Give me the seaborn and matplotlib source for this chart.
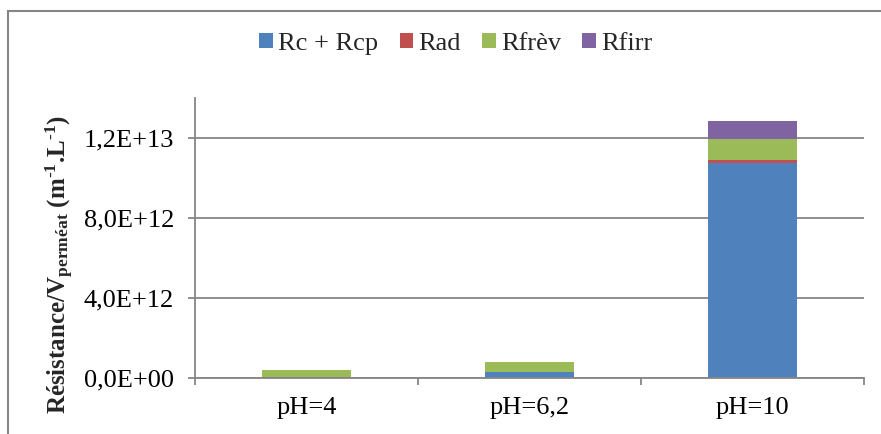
import numpy as np
import pandas as pd
import matplotlib
matplotlib.use("Agg")
import matplotlib.pyplot as plt
import seaborn as sns
from matplotlib.ticker import FuncFormatter, FixedLocator
from matplotlib.patches import Rectangle, Patch

# ---- data ----
categories = ["pH=4", "pH=6,2", "pH=10"]
series_names = ["Rc + Rcp", "Rad", "Rfrèv", "Rfirr"]
rc_rcp = [0.01e12, 0.30e12, 10.73e12]
rad = [0.05e12, 0.00e12, 0.165e12]
rfrev = [0.35e12, 0.50e12, 1.08e12]
rfirr = [0.00e12, 0.00e12, 0.88e12]
yticks = [0.0, 4.0e12, 8.0e12, 1.2e13]

colors = ["#4F81BD", "#C0504D", "#9BBB59", "#8064A2"]

sns.set_style("white")
plt.rcParams["font.family"] = ["Liberation Serif", "DejaVu Serif"]
plt.rcParams["mathtext.fontset"] = "custom"
plt.rcParams["mathtext.rm"] = "Liberation Serif:bold"
plt.rcParams["mathtext.bf"] = "Liberation Serif:bold"
plt.rcParams["mathtext.it"] = "Liberation Serif:italic"

W, H = 881, 434
fig = plt.figure(figsize=(W / 100, H / 100), dpi=100)
ax = fig.add_axes([195 / W, 1 - 378 / H, (864 - 195) / W, (378 - 98) / H])

grid_c = "#868686"
series = [rc_rcp, rad, rfrev, rfirr]
bottom = np.zeros(len(categories))
for name, vals, col in zip(series_names, series, colors):
    df = pd.DataFrame({"cat": categories, "val": vals})
    sns.barplot(data=df, x="cat", y="val", color=col, width=0.4,
                bottom=bottom.copy(), ax=ax, linewidth=0, errorbar=None,
                saturation=1, order=categories)
    bottom = bottom + np.array(vals)

ax.set_ylim(0, 1.4e13)
ax.set_xlim(-0.5, 2.5)
ax.yaxis.set_major_locator(FixedLocator(yticks))


def fmt(v, pos):
    if v == 0:
        return "0,0E+00"
    e = int(np.floor(np.log10(abs(v))))
    m = v / 10 ** e
    return f"{m:.1f}".replace(".", ",") + f"E+{e:02d}"


ax.yaxis.set_major_formatter(FuncFormatter(fmt))
ax.grid(axis="y", color=grid_c, linewidth=1.3)
ax.grid(axis="x", visible=False)
ax.set_axisbelow(True)

for s in ["top", "right"]:
    ax.spines[s].set_visible(False)
for s in ["left", "bottom"]:
    ax.spines[s].set_color(grid_c)
    ax.spines[s].set_linewidth(1.3)

ax.tick_params(axis="y", which="major", length=5, width=1.3, color=grid_c,
               direction="out", left=True, pad=10, labelsize=19, labelcolor="black")
ax.tick_params(axis="x", which="major", length=0, pad=14, labelsize=19,
               labelcolor="black")
ax.set_xticks([-0.5, 0.5, 1.5, 2.5], minor=True)
ax.tick_params(axis="x", which="minor", length=5, width=1.3, color=grid_c,
               direction="out", bottom=True)
ax.set_xlabel("")
ax.set_ylabel(r"Résistance/V$_{\mathbf{perméat}}$ (m$^{\text{-}1}$.L$^{\text{-}1}$)",
              fontsize=18, fontweight="bold")
ax.yaxis.set_label_coords((76 - 195) / (864 - 195), (378 - 265) / (378 - 98))

handles = [Patch(facecolor=c, edgecolor="none", label=n) for n, c in zip(series_names, colors)]
fig.legend(handles=handles, loc="center", bbox_to_anchor=(456 / W, 1 - 44 / H),
           ncol=4, frameon=False, fontsize=19, handlelength=0.52, handleheight=0.52,
           handletextpad=0.2, columnspacing=0.8, borderpad=0)

fig.patches.append(Rectangle((8 / W, -0.1), 1.2, (H - 11) / H + 0.1,
                             transform=fig.transFigure, fill=False,
                             edgecolor=grid_c, linewidth=1.5, zorder=-1))

fig.savefig("out.png", dpi=100)
